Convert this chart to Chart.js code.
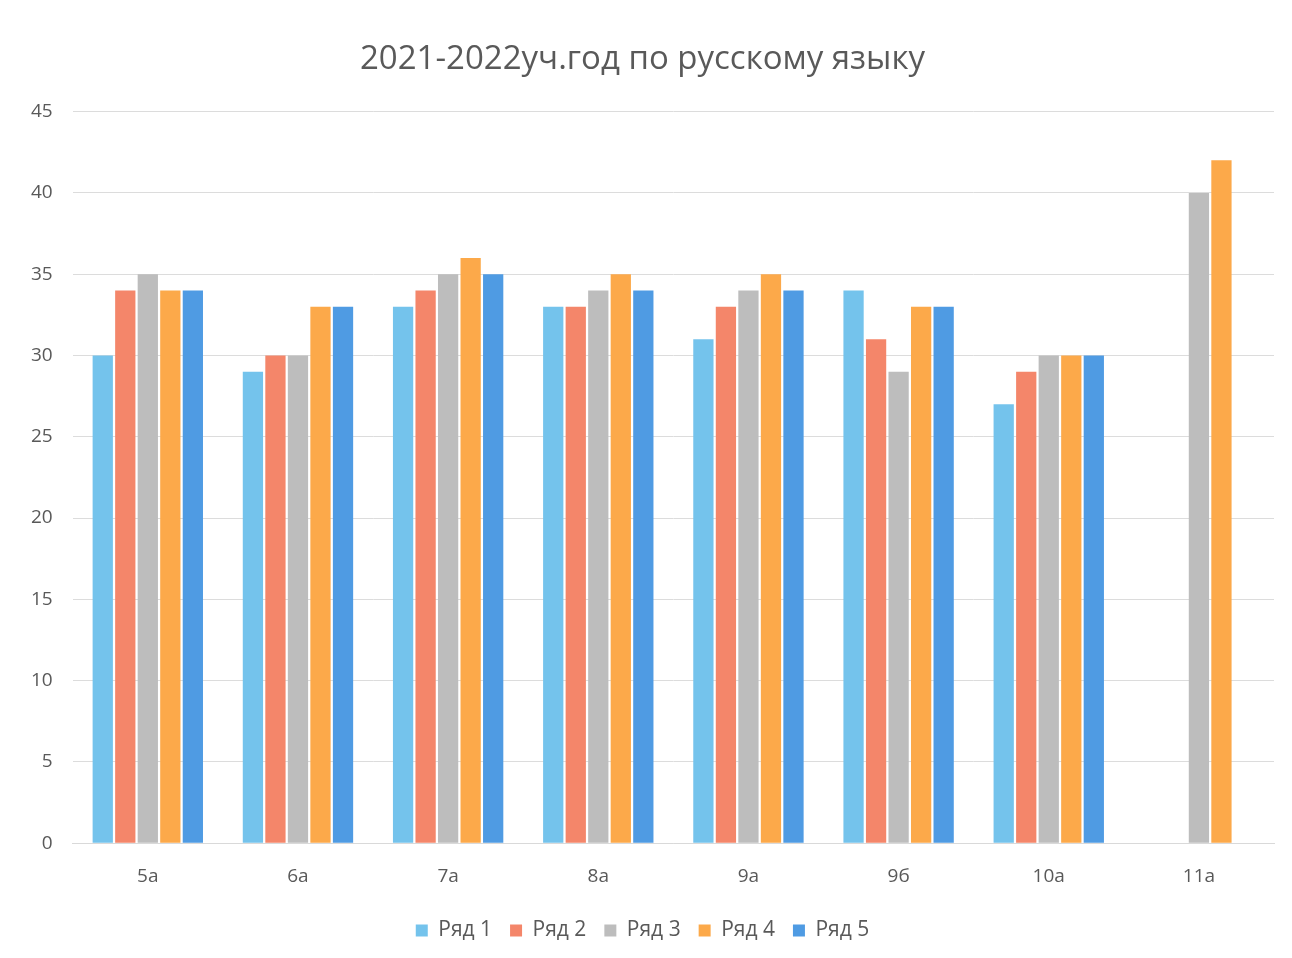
<!DOCTYPE html>
<html>
<head>
<meta charset="utf-8">
<script src="https://cdn.jsdelivr.net/npm/chart.js@4/dist/chart.umd.min.js"></script>
<style>
  html, body { margin: 0; padding: 0; background: #fff; }
  #wrap { position: absolute; left: 0; top: 0; width: 1292px; height: 958px; }
</style>
</head>
<body>
<div id="wrap"><canvas id="chart"></canvas></div>
<script>
// data
const classes = ['5а', '6а', '7а', '8а', '9а', '9б', '10а', '11а'];
const row1 = [30, 29, 33, 33, 31, 34, 27, null];
const row2 = [34, 30, 34, 33, 33, 31, 29, null];
const row3 = [35, 30, 35, 34, 34, 29, 30, 40];
const row4 = [34, 33, 36, 35, 35, 33, 30, 42];
const row5 = [34, 33, 35, 34, 34, 33, 30, null];
const seriesNames = ['Ряд 1', 'Ряд 2', 'Ряд 3', 'Ряд 4', 'Ряд 5'];
const colors = ['#74c3ec', '#f4866a', '#bdbdbd', '#fca94a', '#4f9be3'];

const txt = '#595959';
const font = "'Open Sans', 'Noto Sans', sans-serif";

new Chart(document.getElementById('chart'), {
  type: 'bar',
  data: {
    labels: classes,
    datasets: [row1, row2, row3, row4, row5].map((d, i) => ({
      label: seriesNames[i], data: d, backgroundColor: colors[i],
      categoryPercentage: 0.75, barPercentage: 0.9
    }))
  },
  options: {
    responsive: true, maintainAspectRatio: false, animation: false,
    layout: { padding: { left: 11, right: 18, top: 36, bottom: 7 } },
    plugins: {
      title: { display: true, text: '2021-2022уч.год по русскому языку', color: txt,
        font: { family: font, size: 33, weight: 'normal' }, padding: { top: 4, bottom: 32 } },
      legend: { position: 'bottom', labels: { color: txt, boxWidth: 12, boxHeight: 12, padding: 18,
        font: { family: font, size: 21 } } },
      tooltip: { enabled: false }
    },
    scales: {
      x: { grid: { display: false }, border: { color: '#d9d9d9' },
        ticks: { color: txt, font: { family: font, size: 19 }, padding: 14 } },
      y: { min: 0, max: 45, ticks: { stepSize: 5, color: txt, font: { family: font, size: 19 }, padding: 20 },
        grid: { color: '#dcdcdc', drawTicks: false }, border: { display: false } }
    }
  }
});
</script>
</body>
</html>
